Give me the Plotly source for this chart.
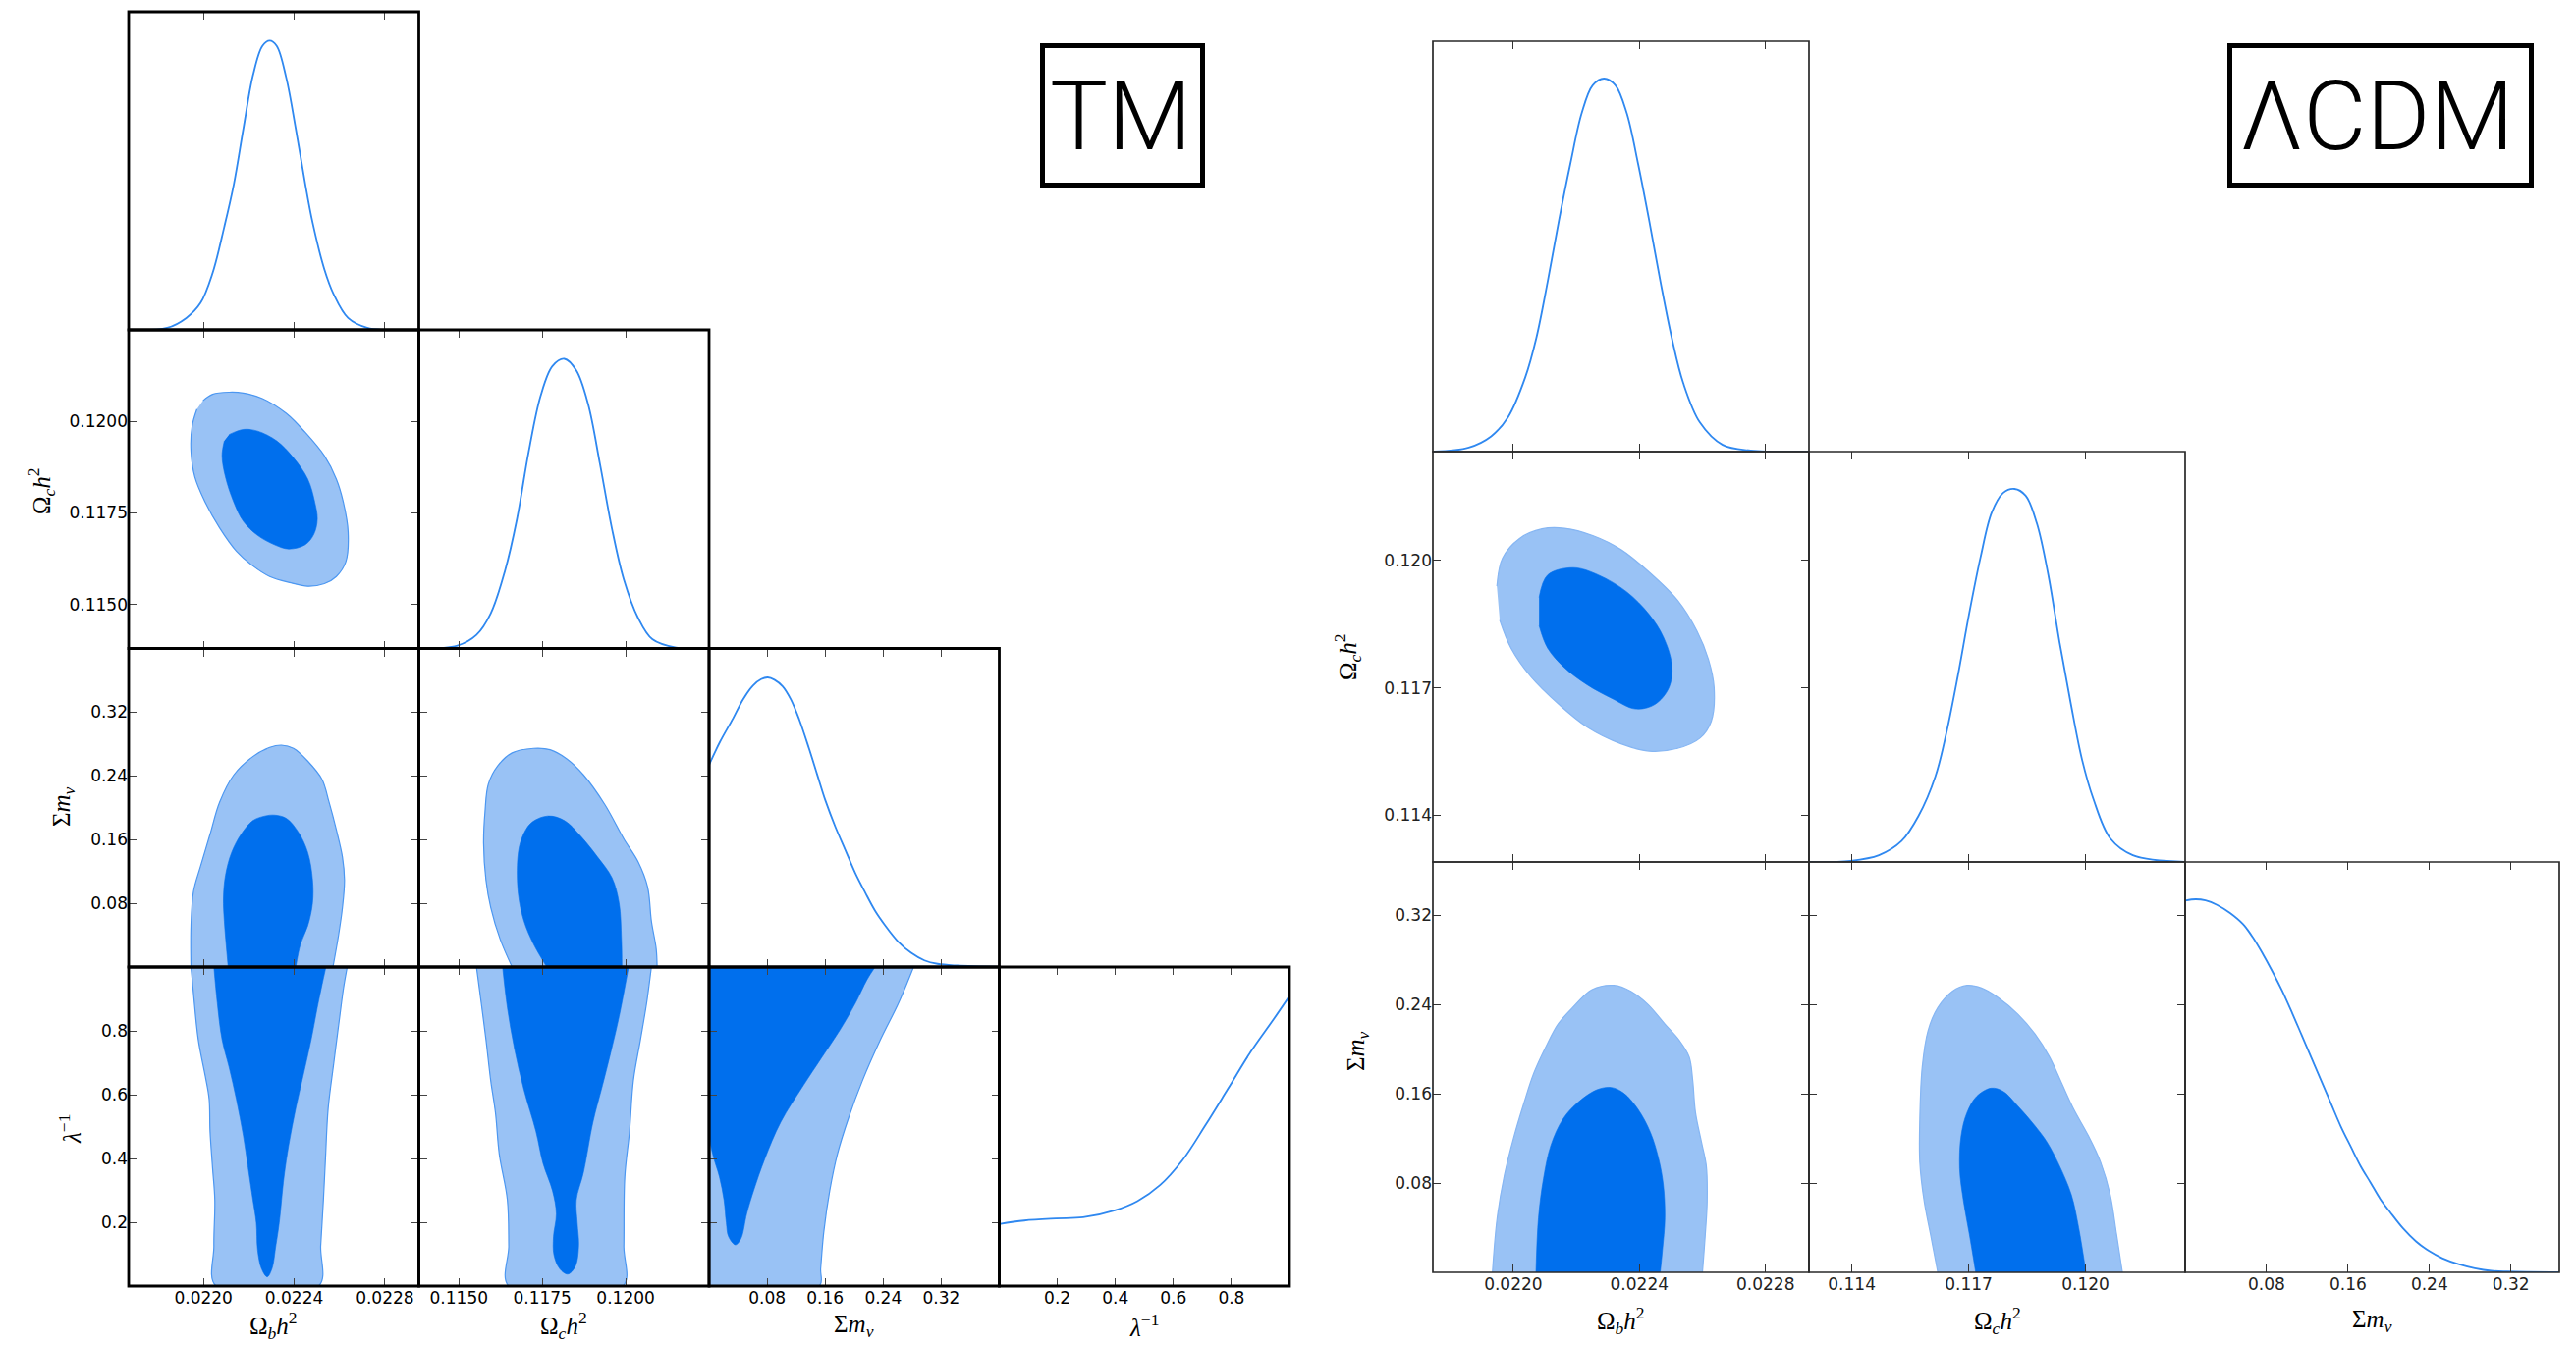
import plotly.graph_objects as go

W, H = 2623, 1370

# ================= DATA : TM model (left triangle) =================
# 1D marginal posteriors (normalised to peak = 1)
tm_obh2_x = [0.021675, 0.02184, 0.021924, 0.021987, 0.02204, 0.022092, 0.022134, 0.022176, 0.022218, 0.02226,
             0.022292, 0.022323, 0.022365, 0.022407, 0.022449, 0.022481, 0.022533, 0.022575, 0.022638, 0.022722,
             0.022806, 0.022951]
tm_obh2_p = [0, 0.007, 0.041, 0.093, 0.196, 0.357, 0.504, 0.696, 0.879, 0.982, 1.0, 0.982, 0.872, 0.696, 0.504,
             0.372, 0.210, 0.122, 0.041, 0.007, 0.0, 0.0]

tm_och2_x = [0.113803, 0.114957, 0.115527, 0.115954, 0.116382, 0.116738, 0.117094, 0.11745, 0.117806, 0.118162,
             0.118519, 0.118875, 0.119231, 0.119587, 0.119943, 0.12037, 0.120798, 0.12151, 0.122507]
tm_och2_p = [0, 0.010, 0.047, 0.121, 0.268, 0.445, 0.680, 0.872, 0.975, 1.0, 0.960, 0.843, 0.636, 0.415, 0.239,
             0.106, 0.032, 0.003, 0]

tm_mnu_x = [0.0, 0.015, 0.0332, 0.0468, 0.0605, 0.0718, 0.0809, 0.0900, 0.1014, 0.1127, 0.1241, 0.1377, 0.1491,
            0.1605, 0.1741, 0.1877, 0.2014, 0.2150, 0.2286, 0.2423, 0.2605, 0.2786, 0.2968, 0.3150, 0.3423, 0.4]
tm_mnu_p = [0.698, 0.777, 0.859, 0.924, 0.972, 0.994, 1.0, 0.992, 0.969, 0.924, 0.856, 0.755, 0.664, 0.574, 0.484,
            0.405, 0.325, 0.258, 0.195, 0.145, 0.088, 0.049, 0.023, 0.011, 0.005, 0.0]

tm_lam_x = [0.0, 0.0862, 0.1953, 0.2889, 0.398, 0.476, 0.554, 0.632, 0.710, 0.788, 0.866, 0.944, 1.0]
tm_lam_p = [0.214, 0.226, 0.233, 0.237, 0.261, 0.293, 0.348, 0.435, 0.554, 0.680, 0.807, 0.918, 1.0]

# 2D contours (95% outer, 68% inner)
tm_b_c_95_x = [0.021998, 0.02204, 0.022113, 0.022176, 0.02226, 0.022365, 0.022449, 0.022533, 0.022586, 0.022617,
               0.022638, 0.022628, 0.022586, 0.022533, 0.02246, 0.022386, 0.022292, 0.022218, 0.022145, 0.022071,
               0.022008, 0.021962, 0.021945, 0.02195, 0.021971]
tm_b_c_95_y = [0.120567, 0.120741, 0.120798, 0.120775, 0.120625, 0.12022, 0.119699, 0.119063, 0.118426, 0.11779,
               0.11698, 0.11617, 0.115765, 0.115569, 0.115499, 0.115592, 0.115765, 0.116055, 0.11646, 0.117096,
               0.11779, 0.118484, 0.119179, 0.119873, 0.120336]
tm_b_c_68_x = [0.022113, 0.022176, 0.022239, 0.022323, 0.022397, 0.02246, 0.022491, 0.022502, 0.022487, 0.022449,
               0.022376, 0.022313, 0.022239, 0.022176, 0.022134, 0.022097, 0.022082, 0.022092]
tm_b_c_68_y = [0.119641, 0.11978, 0.119734, 0.119468, 0.119005, 0.118426, 0.11779, 0.117327, 0.116922, 0.116633,
               0.116517, 0.116633, 0.116888, 0.11727, 0.11779, 0.118484, 0.119063, 0.119468]

tm_b_mnu_95_x = [0.021945, 0.021945, 0.021956, 0.021987, 0.022029, 0.022071, 0.022134, 0.022218, 0.022292, 0.022344,
                 0.022397, 0.02246, 0.022523, 0.022554, 0.022586, 0.022613, 0.022622, 0.022613, 0.022596, 0.022571]
tm_b_mnu_95_y = [0.0, 0.05187, 0.09492, 0.12649, 0.16667, 0.20685, 0.24129, 0.26425, 0.27573, 0.2786, 0.27459,
                 0.25851, 0.23555, 0.20685, 0.17241, 0.13797, 0.10927, 0.07483, 0.04039, 0.0]
tm_b_mnu_68_x = [0.022109, 0.022092, 0.022088, 0.022097, 0.022124, 0.022166, 0.022218, 0.022271, 0.022313, 0.022365,
                 0.022418, 0.02246, 0.022481, 0.022481, 0.02246, 0.022428, 0.022407]
tm_b_mnu_68_y = [0.0, 0.05761, 0.08631, 0.11501, 0.14371, 0.16667, 0.18389, 0.18963, 0.19078, 0.18676, 0.16954,
                 0.14371, 0.10927, 0.08057, 0.05187, 0.02891, 0.0]

tm_b_lam_95_x = [0.021945, 0.021956, 0.021977, 0.022008, 0.022025, 0.022029, 0.02204, 0.02205, 0.022046, 0.022055,
                 0.022508, 0.022517, 0.022529, 0.022538, 0.02255, 0.022575, 0.022601, 0.022617, 0.022634]
tm_b_lam_95_y = [1.0, 0.9163, 0.7727, 0.6578, 0.586, 0.4855, 0.3706, 0.2701, 0.1265, 0.0,
                 0.0, 0.1265, 0.2701, 0.3994, 0.5573, 0.7009, 0.8445, 0.9307, 1.0]
tm_b_lam_68_x = [0.022046, 0.022061, 0.022082, 0.022113, 0.022145, 0.022176, 0.022197, 0.022218, 0.022233, 0.022239,
                 0.022256, 0.022281, 0.022302, 0.022319, 0.022334, 0.022355, 0.022376, 0.022407, 0.022439, 0.022475,
                 0.022502, 0.022523, 0.02254]
tm_b_lam_68_y = [1.0, 0.8876, 0.7727, 0.6866, 0.586, 0.4712, 0.3706, 0.2701, 0.1983, 0.1121, 0.0547, 0.0289,
                 0.0547, 0.1265, 0.1983, 0.3419, 0.4424, 0.5573, 0.6578, 0.7727, 0.8733, 0.945, 1.0]

tm_c_mnu_95_x = [0.116596, 0.11624, 0.115955, 0.115812, 0.115741, 0.115784, 0.115884, 0.116169, 0.116596, 0.117237,
                 0.117736, 0.118235, 0.118734, 0.119375, 0.119945, 0.120372, 0.120657, 0.120771, 0.120914, 0.120942]
tm_c_mnu_95_y = [0.0, 0.03465, 0.07483, 0.10927, 0.15519, 0.19537, 0.22981, 0.25277, 0.26885, 0.27459, 0.27286,
                 0.26138, 0.24129, 0.20399, 0.16093, 0.13223, 0.10066, 0.05761, 0.02317, 0.0]
tm_c_mnu_68_x = [0.117636, 0.117237, 0.116952, 0.116781, 0.116767, 0.116881, 0.117166, 0.117665, 0.118164, 0.118662,
                 0.119161, 0.119589, 0.119802, 0.119874, 0.119888]
tm_c_mnu_68_y = [0.0, 0.02891, 0.05761, 0.09205, 0.13797, 0.16093, 0.18102, 0.18963, 0.18389, 0.1638, 0.13797,
                 0.11214, 0.08057, 0.03465, 0.0]

tm_c_lam_95_x = [0.115527, 0.11567, 0.115812, 0.115955, 0.116097, 0.116211, 0.116454, 0.116496, 0.116496,
                 0.119916, 0.119945, 0.119973, 0.120116, 0.12023, 0.120444, 0.120629, 0.120771]
tm_c_lam_95_y = [1.0, 0.8876, 0.7727, 0.6435, 0.543, 0.4137, 0.2701, 0.1265, 0.0,
                 0.0, 0.1265, 0.3419, 0.4855, 0.6435, 0.7727, 0.8876, 1.0]
tm_c_lam_68_x = [0.116311, 0.116454, 0.116667, 0.116952, 0.117309, 0.117522, 0.117807, 0.117921, 0.117836, 0.11785,
                 0.118021, 0.118263, 0.118491, 0.118591, 0.118548, 0.11852, 0.118734, 0.119019, 0.119304, 0.119546,
                 0.119802, 0.120087]
tm_c_lam_68_y = [1.0, 0.8732, 0.744, 0.6148, 0.4855, 0.385, 0.2988, 0.227, 0.1552, 0.0978, 0.0547, 0.0375, 0.0619,
                 0.1265, 0.1983, 0.2701, 0.3563, 0.5142, 0.6291, 0.7296, 0.8445, 1.0]

tm_mnu_lam_95_x = [0.2819, 0.2613, 0.2363, 0.2113, 0.1925, 0.1769, 0.1663, 0.1581, 0.1538, 0.1519, 0.0, 0.0]
tm_mnu_lam_95_y = [1.0, 0.8876, 0.7727, 0.6435, 0.5286, 0.4137, 0.2988, 0.1696, 0.0547, 0.0, 0.0, 1.0]
tm_mnu_lam_68_x = [0.2288, 0.2175, 0.2019, 0.18, 0.155, 0.13, 0.0988, 0.0769, 0.0613, 0.0519, 0.0438, 0.0363,
                   0.0269, 0.0238, 0.0206, 0.0144, 0.005, 0.0, 0.0]
tm_mnu_lam_68_y = [1.0, 0.9594, 0.8876, 0.8014, 0.7153, 0.6291, 0.5142, 0.3994, 0.2988, 0.227, 0.1481, 0.1294,
                   0.1552, 0.1983, 0.2701, 0.3419, 0.4137, 0.4855, 1.0]

# ================= DATA : LCDM model (right triangle) =================
lcdm_obh2_x = [0.021748, 0.021859, 0.02193, 0.021984, 0.022038, 0.022073, 0.022109, 0.022145, 0.022181, 0.022217,
               0.022252, 0.022288, 0.022324, 0.02236, 0.022396, 0.022431, 0.022467, 0.022503, 0.022539, 0.022592,
               0.022664, 0.022753, 0.022943]
lcdm_obh2_p = [0, 0.011, 0.041, 0.093, 0.199, 0.304, 0.455, 0.620, 0.771, 0.907, 0.982, 1.0, 0.982, 0.907, 0.771,
               0.620, 0.455, 0.304, 0.184, 0.078, 0.018, 0.003, 0]

lcdm_och2_x = [0.112899, 0.113971, 0.114696, 0.115275, 0.11571, 0.116145, 0.116435, 0.116725, 0.117014, 0.117304,
               0.117594, 0.117884, 0.118174, 0.118464, 0.118754, 0.119043, 0.119333, 0.119623, 0.119913, 0.120203,
               0.120638, 0.121217, 0.122551]
lcdm_och2_p = [0, 0.003, 0.018, 0.056, 0.123, 0.229, 0.349, 0.5, 0.666, 0.816, 0.937, 0.989, 1.0, 0.982, 0.907,
               0.771, 0.590, 0.425, 0.274, 0.169, 0.063, 0.018, 0]

lcdm_mnu_x = [0.0, 0.0104, 0.0200, 0.0313, 0.0441, 0.0569, 0.0665, 0.0762, 0.0858, 0.0954, 0.1050, 0.1146, 0.1242,
              0.1339, 0.1435, 0.1531, 0.1627, 0.1723, 0.1820, 0.1916, 0.2012, 0.2140, 0.2268, 0.2397, 0.2525,
              0.2685, 0.2845, 0.3006, 0.3166, 0.3679]
lcdm_mnu_p = [0.9965, 1.0, 0.997, 0.985, 0.963, 0.933, 0.898, 0.854, 0.806, 0.754, 0.696, 0.635, 0.574, 0.512,
              0.451, 0.390, 0.337, 0.285, 0.241, 0.197, 0.162, 0.118, 0.083, 0.057, 0.038, 0.022, 0.011, 0.004,
              0.002, 0.0]

lcdm_b_c_95_x = [0.021948, 0.021966, 0.02202, 0.022091, 0.022163, 0.022252, 0.022342, 0.022431, 0.022521, 0.022583,
                 0.022619, 0.022637, 0.022628, 0.022592, 0.022521, 0.022431, 0.022342, 0.022234, 0.022145, 0.022055,
                 0.021993, 0.021957]
lcdm_b_c_95_y = [0.119391, 0.120053, 0.120517, 0.120742, 0.120755, 0.120583, 0.120252, 0.119722, 0.11906, 0.118331,
                 0.117669, 0.117007, 0.116212, 0.115815, 0.115576, 0.11551, 0.115682, 0.116079, 0.116609, 0.117271,
                 0.117934, 0.118596]
lcdm_b_c_68_x = [0.022082, 0.022109, 0.02219, 0.02227, 0.02236, 0.022431, 0.022476, 0.022503, 0.022494, 0.022449,
                 0.022387, 0.022315, 0.022234, 0.022163, 0.022109, 0.022082]
lcdm_b_c_68_y = [0.119126, 0.119656, 0.119828, 0.119656, 0.119258, 0.118729, 0.118199, 0.117536, 0.117007, 0.116609,
                 0.116503, 0.116742, 0.117073, 0.11747, 0.117934, 0.118464]

lcdm_b_mnu_95_x = [0.021934, 0.021949, 0.021972, 0.022003, 0.022034, 0.022065, 0.022103, 0.022142, 0.022188,
                   0.02225, 0.022319, 0.022373, 0.022427, 0.022481, 0.022527, 0.022558, 0.022569, 0.022578,
                   0.022597, 0.022612, 0.022615, 0.022609, 0.0226]
lcdm_b_mnu_95_y = [0.0, 0.0488, 0.0871, 0.1223, 0.1517, 0.1782, 0.2017, 0.2223, 0.237, 0.2532, 0.257, 0.2517,
                   0.2399, 0.2223, 0.2076, 0.1929, 0.1723, 0.1429, 0.1165, 0.0959, 0.0635, 0.0341, 0.0]
lcdm_b_mnu_68_x = [0.022072, 0.02208, 0.022096, 0.022119, 0.022157, 0.022203, 0.022265, 0.022311, 0.02235,
                   0.022396, 0.022435, 0.022461, 0.022476, 0.022481, 0.022473, 0.022466]
lcdm_b_mnu_68_y = [0.0, 0.0488, 0.0841, 0.1135, 0.137, 0.1517, 0.1635, 0.1656, 0.1606, 0.1459, 0.1253, 0.1018,
                   0.0782, 0.0488, 0.0194, 0.0]

lcdm_c_mnu_95_x = [0.116208, 0.116021, 0.115859, 0.115746, 0.115746, 0.115809, 0.115958, 0.116208, 0.116582,
                   0.116956, 0.117331, 0.117767, 0.118266, 0.118703, 0.119077, 0.119389, 0.119701, 0.120075,
                   0.120387, 0.120636, 0.120798, 0.120948]
lcdm_c_mnu_95_y = [0.0, 0.0341, 0.0635, 0.0988, 0.137, 0.1841, 0.2164, 0.237, 0.2517, 0.257, 0.2546, 0.2458,
                   0.2311, 0.2135, 0.1929, 0.1694, 0.1459, 0.1223, 0.0988, 0.0694, 0.0341, 0.0]
lcdm_c_mnu_68_x = [0.117181, 0.117019, 0.116869, 0.116769, 0.116807, 0.116956, 0.117206, 0.11758, 0.117892,
                   0.118266, 0.118703, 0.119015, 0.119326, 0.119638, 0.119825, 0.120012]
lcdm_c_mnu_68_y = [0.0, 0.0341, 0.0635, 0.0929, 0.1223, 0.1429, 0.1576, 0.165, 0.162, 0.1488, 0.1312, 0.1165,
                   0.0959, 0.0694, 0.04, 0.0]

# ================= axis ranges / ticks =================
tm_ranges = {'obh2': [0.02167, 0.02295], 'och2': [0.1138, 0.1225], 'mnu': [0.0, 0.4], 'lam': [0.0, 1.0]}
lcdm_ranges = {'obh2': [0.021745, 0.022938], 'och2': [0.1129, 0.12256], 'mnu': [0.0, 0.3675]}

tm_ticks = {'obh2': [0.0220, 0.0224, 0.0228], 'och2': [0.1150, 0.1175, 0.1200],
            'mnu': [0.08, 0.16, 0.24, 0.32], 'lam': [0.2, 0.4, 0.6, 0.8]}
tm_ticktext = {'obh2': ['0.0220', '0.0224', '0.0228'], 'och2': ['0.1150', '0.1175', '0.1200'],
               'mnu': ['0.08', '0.16', '0.24', '0.32'], 'lam': ['0.2', '0.4', '0.6', '0.8']}
lcdm_ticks = {'obh2': [0.0220, 0.0224, 0.0228], 'och2': [0.114, 0.117, 0.120], 'mnu': [0.08, 0.16, 0.24, 0.32]}
lcdm_ticktext = {'obh2': ['0.0220', '0.0224', '0.0228'], 'och2': ['0.114', '0.117', '0.120'],
                 'mnu': ['0.08', '0.16', '0.24', '0.32']}

labels = {'obh2': "Ω<sub><i>b</i></sub><i>h</i><sup>2</sup>",
          'och2': "Ω<sub><i>c</i></sub><i>h</i><sup>2</sup>",
          'mnu': "Σ<i>m</i><sub><i>ν</i></sub>",
          'lam': "<i>λ</i><sup>−1</sup>"}

tm_1d = {'obh2': (tm_obh2_x, tm_obh2_p), 'och2': (tm_och2_x, tm_och2_p),
         'mnu': (tm_mnu_x, tm_mnu_p), 'lam': (tm_lam_x, tm_lam_p)}
tm_2d = {(1, 0): (tm_b_c_95_x, tm_b_c_95_y, tm_b_c_68_x, tm_b_c_68_y),
         (2, 0): (tm_b_mnu_95_x, tm_b_mnu_95_y, tm_b_mnu_68_x, tm_b_mnu_68_y),
         (3, 0): (tm_b_lam_95_x, tm_b_lam_95_y, tm_b_lam_68_x, tm_b_lam_68_y),
         (2, 1): (tm_c_mnu_95_x, tm_c_mnu_95_y, tm_c_mnu_68_x, tm_c_mnu_68_y),
         (3, 1): (tm_c_lam_95_x, tm_c_lam_95_y, tm_c_lam_68_x, tm_c_lam_68_y),
         (3, 2): (tm_mnu_lam_95_x, tm_mnu_lam_95_y, tm_mnu_lam_68_x, tm_mnu_lam_68_y)}
lcdm_1d = {'obh2': (lcdm_obh2_x, lcdm_obh2_p), 'och2': (lcdm_och2_x, lcdm_och2_p), 'mnu': (lcdm_mnu_x, lcdm_mnu_p)}
lcdm_2d = {(1, 0): (lcdm_b_c_95_x, lcdm_b_c_95_y, lcdm_b_c_68_x, lcdm_b_c_68_y),
           (2, 0): (lcdm_b_mnu_95_x, lcdm_b_mnu_95_y, lcdm_b_mnu_68_x, lcdm_b_mnu_68_y),
           (2, 1): (lcdm_c_mnu_95_x, lcdm_c_mnu_95_y, lcdm_c_mnu_68_x, lcdm_c_mnu_68_y)}

# ================= styling / layout =================
DARK = '#006FED'
LIGHT = '#99C2F5'
LINE1D = '#2F88F0'

TRIS = [
    dict(params=['obh2', 'och2', 'mnu', 'lam'], ranges=tm_ranges, ticks=tm_ticks, ticktext=tm_ticktext,
         d1=tm_1d, d2=tm_2d, X=[131, 426.5, 722, 1017.5, 1313], Y=[12, 336, 660.5, 985, 1310],
         lw=2.8, lc='black', tc='#444444', fc='black', edge='#4C97F1',
         xlab_y=1350, ylab_pos=[None, (42, 500), (64, 822), (71, 1150)]),
    dict(params=['obh2', 'och2', 'mnu'], ranges=lcdm_ranges, ticks=lcdm_ticks, ticktext=lcdm_ticktext,
         d1=lcdm_1d, d2=lcdm_2d, X=[1459, 1842, 2225, 2606], Y=[42, 460, 878, 1296],
         lw=1.7, lc='#2a2a2a', tc='#333333', fc='#222222', edge='#86B6F3',
         xlab_y=1345, ylab_pos=[None, (1372, 669), (1382, 1071)]),
]

layout = dict(width=W, height=H, margin=dict(l=0, r=0, t=0, b=0), paper_bgcolor='white',
              plot_bgcolor='white', showlegend=False, annotations=[], shapes=[])
traces = []
k = 0
TICKFONT = dict(family='DejaVu Sans', size=17)
LABFONT = dict(family='Liberation Serif', size=25, color='black')

for T in TRIS:
    n = len(T['params'])
    X, Y = T['X'], T['Y']
    for r in range(n):
        for c in range(r + 1):
            k += 1
            xa = 'xaxis' if k == 1 else f'xaxis{k}'
            ya = 'yaxis' if k == 1 else f'yaxis{k}'
            xr = 'x' if k == 1 else f'x{k}'
            yr = 'y' if k == 1 else f'y{k}'
            px, py = T['params'][c], T['params'][r]
            common = dict(showgrid=False, zeroline=False, showline=False,
                          ticks='inside', ticklen=8, tickwidth=1.3,
                          tickcolor=T['tc'], tickfont=dict(color=T['fc'], **TICKFONT))
            layout[xa] = dict(domain=[X[c] / W, X[c + 1] / W], range=T['ranges'][px], anchor=yr,
                              mirror='ticks', tickmode='array', tickvals=T['ticks'][px],
                              ticktext=T['ticktext'][px], showticklabels=(r == n - 1), **common)
            if r == c:
                layout[ya] = dict(domain=[1 - Y[r + 1] / H, 1 - Y[r] / H], range=[0, 1.1], anchor=xr,
                                  showticklabels=False, **{**common, 'ticks': ''})
                xs, ps = T['d1'][px]
                traces.append(go.Scatter(x=xs, y=ps, mode='lines', xaxis=xr, yaxis=yr,
                                         line=dict(color=LINE1D, width=1.8, shape='spline'),
                                         hoverinfo='skip'))
            else:
                layout[ya] = dict(domain=[1 - Y[r + 1] / H, 1 - Y[r] / H], range=T['ranges'][py],
                                  anchor=xr, mirror='ticks', tickmode='array', tickvals=T['ticks'][py],
                                  ticktext=T['ticktext'][py], showticklabels=(c == 0), **common)
                ox, oy, ix, iy = T['d2'][(r, c)]
                traces.append(go.Scatter(x=ox, y=oy, mode='lines', fill='toself', fillcolor=LIGHT,
                                         xaxis=xr, yaxis=yr, hoverinfo='skip',
                                         line=dict(color=T['edge'], width=1.2, shape='spline')))
                traces.append(go.Scatter(x=ix, y=iy, mode='lines', fill='toself', fillcolor=DARK,
                                         xaxis=xr, yaxis=yr, hoverinfo='skip',
                                         line=dict(color=DARK, width=0.6, shape='spline')))
            # panel frame
            layout['shapes'].append(dict(type='rect', xref=f'{xr} domain', yref=f'{yr} domain',
                                         x0=0, x1=1, y0=0, y1=1, layer='above',
                                         line=dict(color=T['lc'], width=T['lw'])))
    # axis titles
    for c, p in enumerate(T['params']):
        layout['annotations'].append(dict(text=labels[p], xref='paper', yref='paper',
                                          x=(X[c] + X[c + 1]) / 2 / W, y=1 - T['xlab_y'] / H,
                                          xanchor='center', yanchor='middle', showarrow=False,
                                          font=LABFONT))
    for r, p in enumerate(T['params']):
        if r == 0:
            continue
        lx, ly = T['ylab_pos'][r]
        layout['annotations'].append(dict(text=labels[p], xref='paper', yref='paper',
                                          x=lx / W, y=1 - ly / H, textangle=-90,
                                          xanchor='center', yanchor='middle', showarrow=False,
                                          font=LABFONT))

# model name boxes
for name, (x0, x1), cx in [('TM', (1061.5, 1224.5), 1141), ('ΛCDM', (2270.5, 2577.5), 2420)]:
    layout['shapes'].append(dict(type='rect', xref='paper', yref='paper', x0=x0 / W, x1=x1 / W,
                                 y0=1 - 188.5 / H, y1=1 - 46.5 / H, line=dict(color='black', width=5)))
    layout['annotations'].append(dict(text=name, xref='paper', yref='paper', x=cx / W, y=1 - 118 / H,
                                      xanchor='center', yanchor='middle', showarrow=False,
                                      font=dict(family='Roboto', size=99, color='black', weight=300)))

fig = go.Figure(data=traces, layout=layout)
fig.write_html("out.html")
